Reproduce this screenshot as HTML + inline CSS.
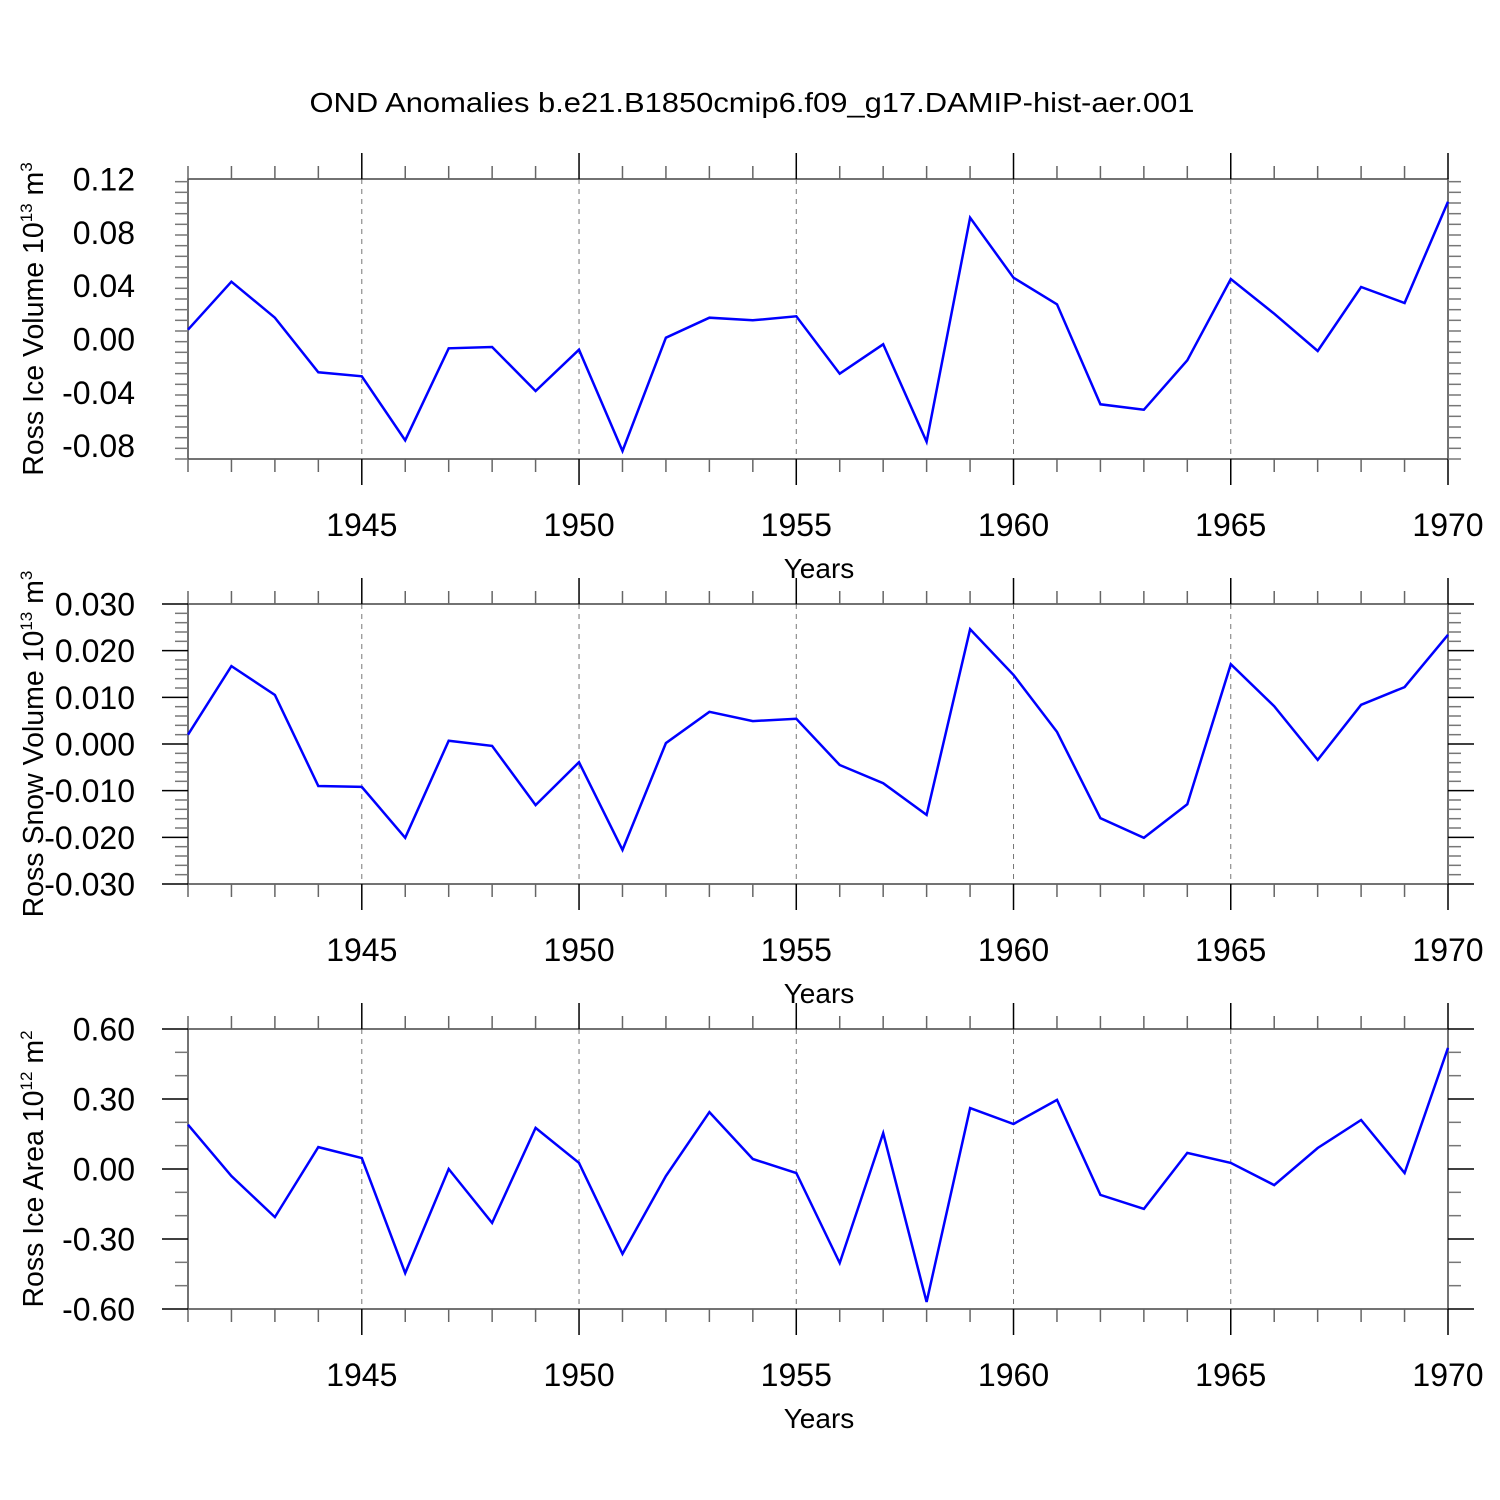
<!DOCTYPE html>
<html><head><meta charset="utf-8"><style>
html,body{margin:0;padding:0;background:#fff;}
svg{display:block;font-family:"Liberation Sans",sans-serif;}
</style></head><body>
<svg id="chart" width="1500" height="1500" viewBox="0 0 1500 1500" xmlns="http://www.w3.org/2000/svg">
<rect width="1500" height="1500" fill="#fff"/>
<text x="752" y="112" font-size="28" text-anchor="middle" textLength="885" lengthAdjust="spacingAndGlyphs">OND Anomalies b.e21.B1850cmip6.f09_g17.DAMIP-hist-aer.001</text>
</svg>
<script>
const years = [1941,1942,1943,1944,1945,1946,1947,1948,1949,1950,1951,1952,1953,1954,1955,1956,1957,1958,1959,1960,1961,1962,1963,1964,1965,1966,1967,1968,1969,1970];
const xTickYears = [1945,1950,1955,1960,1965,1970];
const iceVolume = [0.007,0.043,0.016,-0.025,-0.028,-0.076,-0.007,-0.006,-0.039,-0.008,-0.084,0.001,0.016,0.014,0.017,-0.026,-0.004,-0.077,0.091,0.046,0.026,-0.049,-0.053,-0.016,0.045,0.019,-0.009,0.039,0.027,0.103];
const snowVolume = [0.002,0.0167,0.0105,-0.009,-0.0092,-0.0201,0.0007,-0.0004,-0.0131,-0.0039,-0.0227,0.0002,0.0069,0.0049,0.0054,-0.0045,-0.0084,-0.0152,0.0246,0.0148,0.0026,-0.0159,-0.0201,-0.0129,0.0171,0.0081,-0.0034,0.0084,0.0122,0.0234];
const iceArea = [0.19,-0.03,-0.206,0.094,0.047,-0.446,0.0,-0.231,0.176,0.026,-0.364,-0.03,0.244,0.043,-0.017,-0.403,0.154,-0.57,0.261,0.193,0.296,-0.111,-0.171,0.069,0.026,-0.069,0.09,0.21,-0.017,0.519];
const iceVolTicks = ["0.12","0.08","0.04","0.00","-0.04","-0.08"];
const snowTicks = ["0.030","0.020","0.010","0.000","-0.010","-0.020","-0.030"];
const areaTicks = ["0.60","0.30","0.00","-0.30","-0.60"];

const NS="http://www.w3.org/2000/svg";
const svg=document.getElementById('chart');
function mk(tag,attrs,parent){const e=document.createElementNS(NS,tag);for(const k in attrs)e.setAttribute(k,attrs[k]);(parent||svg).appendChild(e);return e;}
const X0=188,X1=1448;
function xs(yr){return X0+(yr-1941)*(X1-X0)/29;}

function panel(name,top,ymin,ymax,majorStep,minorStep,tickLabels,data,titleParts){
  const bot=top+280;
  const ys=v=>bot-(v-ymin)/(ymax-ymin)*280;
  const g=mk('g',{});
  
  
  xTickYears.slice(0,5).forEach(yr=>{
    const l=mk('line',{x1:xs(yr),x2:xs(yr),y1:top,y2:bot,stroke:'#777','stroke-width':1,'stroke-dasharray':'5,5'},g);
    
    
  });
  const fr=mk('rect',{x:X0,y:top,width:X1-X0,height:280,fill:'none',stroke:'#444','stroke-width':1.5},g);
  
  
  years.forEach(yr=>{
    const maj=xTickYears.includes(yr);
    const len=maj?26:13;
    mk('line',{x1:xs(yr),x2:xs(yr),y1:top,y2:top-len,stroke:maj?'#000':'#666','stroke-width':1.5},g);
    mk('line',{x1:xs(yr),x2:xs(yr),y1:bot,y2:bot+len,stroke:maj?'#000':'#666','stroke-width':1.5},g);
  });
  const nMinor=Math.round((ymax-ymin)/minorStep);
  for(let i=0;i<=nMinor;i++){
    const v=ymin+i*minorStep;
    const k=(ymax-v)/majorStep;
    const maj=Math.abs(k-Math.round(k))<1e-6 && Math.round(k)<tickLabels.length;
    const len=maj?26:13;
    const y=ys(v);
    mk('line',{x1:X0,x2:X0-len,y1:y,y2:y,stroke:maj?'#000':'#777','stroke-width':1.5},g);
    mk('line',{x1:X1,x2:X1+len,y1:y,y2:y,stroke:maj?'#000':'#777','stroke-width':1.5},g);
  }
  tickLabels.forEach((t,i)=>{
    const v=ymax-i*majorStep;
    const tx=mk('text',{x:135,y:ys(v)+11.5,'font-size':32,'text-anchor':'end'},g);
    tx.textContent=t;
    
    
  });
  xTickYears.forEach(yr=>{
    const tx=mk('text',{x:xs(yr),y:bot+77,'font-size':32,'text-anchor':'middle'},g);
    tx.textContent=yr;
    
    
  });
  const xt=mk('text',{x:819,y:bot+119,'font-size':28,'text-anchor':'middle'},g);
  xt.textContent='Years';
  
  
  const yt=mk('text',{x:0,y:0,'font-size':28.5,'text-anchor':'middle',transform:`translate(43,${top+140}) rotate(-90)`},g);
  
  
  const s1=mk('tspan',{},yt);s1.textContent=titleParts[0];
  const s2=mk('tspan',{dy:-11,'font-size':17},yt);s2.textContent=titleParts[1];
  const s3=mk('tspan',{dy:11},yt);s3.textContent=titleParts[2];
  const s4=mk('tspan',{dy:-11,'font-size':17},yt);s4.textContent=titleParts[3];
  const pts=data.map((v,i)=>xs(years[i]).toFixed(1)+','+ys(v).toFixed(1)).join(' ');
  const pl=mk('polyline',{points:pts,fill:'none',stroke:'#0000ff','stroke-width':2.5,'stroke-linejoin':'miter'},g);
  
  
}
panel('ice-volume',179,-0.09,0.12,0.04,0.008,iceVolTicks,iceVolume,['Ross Ice Volume 10','13',' m','3']);
panel('snow-volume',604,-0.03,0.03,0.01,0.002,snowTicks,snowVolume,['Ross Snow Volume 10','13',' m','3']);
panel('ice-area',1029,-0.6,0.6,0.3,0.1,areaTicks,iceArea,['Ross Ice Area 10','12',' m','2']);
</script>
</body></html>
